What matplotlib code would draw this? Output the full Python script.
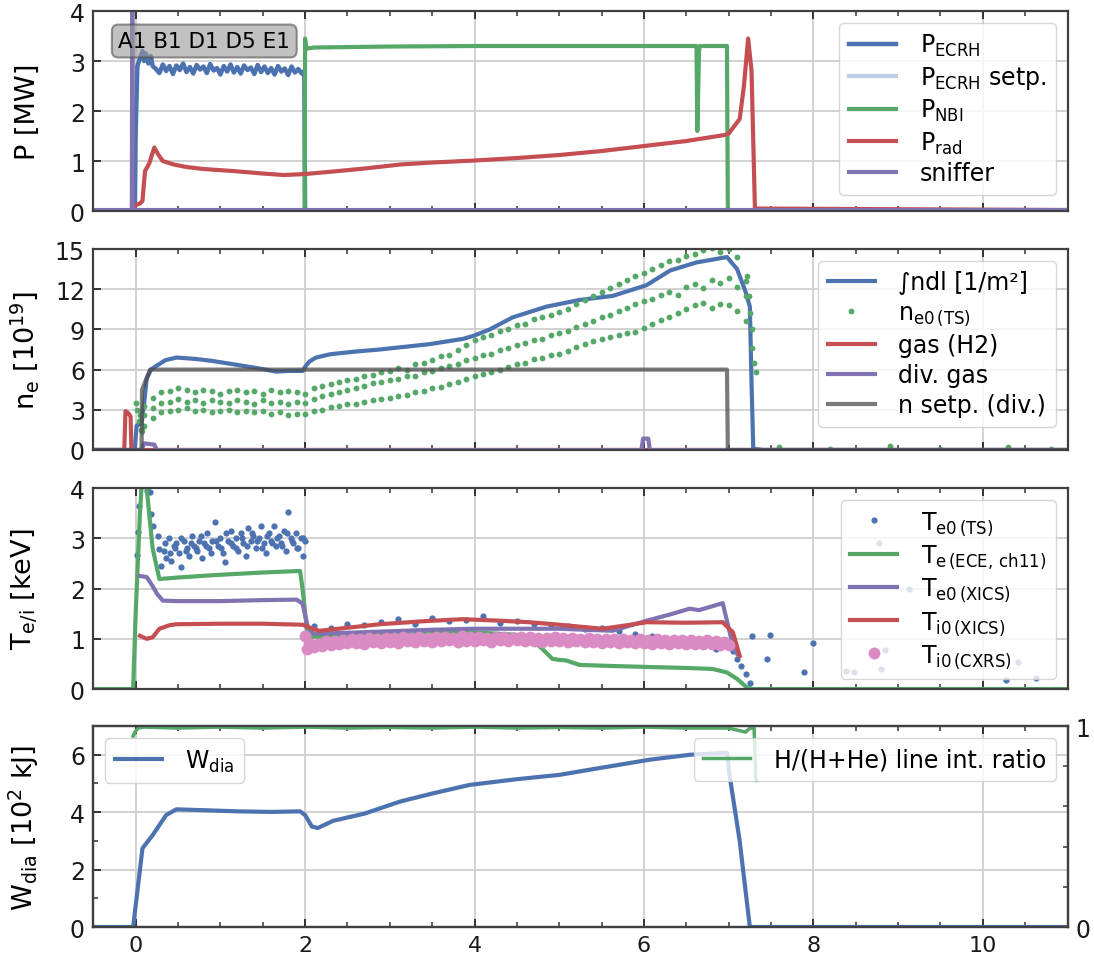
import matplotlib
matplotlib.use('Agg')
import matplotlib.pyplot as plt
from matplotlib.ticker import MultipleLocator

# ---- panel 1: heating / radiated power [MW] ----
ecrh_t = [-0.5, -0.01, 0.0, 0.02, 0.05, 0.08, 0.1, 0.12, 0.15, 0.18, 0.2,
	0.24, 0.28, 0.32, 0.36, 0.40, 0.44, 0.48, 0.52, 0.56, 0.60, 0.64, 0.68, 0.72, 0.76, 0.80,
	0.84, 0.88, 0.92, 0.96, 1.00, 1.04, 1.08, 1.12, 1.16, 1.20, 1.24, 1.28, 1.32, 1.36, 1.40,
	1.44, 1.48, 1.52, 1.56, 1.60, 1.64, 1.68, 1.72, 1.76, 1.80, 1.84, 1.88, 1.92, 1.96,
	1.99, 2.0, 11.0]
ecrh_p = [0, 0, 1.6, 2.9, 3.05, 3.2, 3.0, 3.15, 2.95, 3.1, 2.9,
	2.84, 2.76, 2.93, 2.80, 2.90, 2.74, 2.91, 2.82, 2.95, 2.78, 2.88, 2.75, 2.92, 2.83, 2.89,
	2.76, 2.94, 2.81, 2.86, 2.73, 2.90, 2.79, 2.93, 2.77, 2.88, 2.75, 2.91, 2.82, 2.87, 2.74,
	2.92, 2.78, 2.89, 2.76, 2.86, 2.73, 2.90, 2.79, 2.85, 2.72, 2.89, 2.77, 2.84, 2.75,
	2.8, 0.0, 0.0]
ecrh_set_t = [-0.5, 11.0]
ecrh_set_p = [0.0, 0.0]
nbi_t = [-0.5, 1.995, 2.0, 2.01, 2.03, 2.1, 3.0, 4.0, 5.0, 6.0, 6.62, 6.63, 6.65, 6.66, 6.98, 6.99, 11.0]
nbi_p = [0, 0, 3.45, 3.3, 3.25, 3.27, 3.29, 3.3, 3.3, 3.3, 3.3, 1.6, 3.2, 3.3, 3.3, 0.0, 0.0]
rad_t = [-0.5, -0.03, 0.0, 0.05, 0.08, 0.11, 0.16, 0.22, 0.27, 0.32, 0.45, 0.6, 0.8, 1.15, 1.5,
	1.75, 2.0, 2.33, 2.7, 3.12, 3.5, 4.0, 4.5, 5.0, 5.5, 6.0, 6.5, 6.95, 7.0, 7.13, 7.18, 7.23,
	7.27, 7.31, 11.0]
rad_p = [0, 0, 0.12, 0.15, 0.2, 0.8, 0.95, 1.27, 1.12, 1.0, 0.93, 0.88, 0.84, 0.8, 0.75,
	0.72, 0.74, 0.79, 0.85, 0.93, 0.97, 1.01, 1.06, 1.12, 1.2, 1.3, 1.4, 1.52, 1.55, 1.84, 2.5, 3.45,
	2.8, 0.05, 0.02]
sniff_t = [-0.5, -0.045, -0.04, -0.035, 11.0]
sniff_p = [0.02, 0.02, 5.0, 0.02, 0.02]

# ---- panel 2: density ----
ndl_t = [-0.5, -0.01, 0.01, 0.03, 0.07, 0.1, 0.13, 0.18, 0.25, 0.35, 0.48, 0.7, 0.9, 1.15, 1.4,
	1.66, 1.8, 1.97, 2.0, 2.05, 2.13, 2.3, 2.6, 2.88, 3.47, 3.87, 4.0, 4.18, 4.45, 4.85, 5.24,
	5.63, 6.03, 6.31, 6.62, 6.98, 7.1, 7.2, 7.25, 7.27, 7.29, 7.4, 11.0]
ndl_v = [0, 0, 1.8, 1.9, 2.0, 3.5, 5.3, 6.0, 6.3, 6.7, 6.9, 6.8, 6.65, 6.4, 6.15,
	5.85, 5.9, 5.9, 6.2, 6.6, 6.9, 7.15, 7.35, 7.5, 7.9, 8.3, 8.55, 9.0, 9.9, 10.7, 11.2,
	11.5, 12.3, 13.4, 14.0, 14.4, 13.5, 11.8, 10.7, 5.0, 0.1, 0.0, 0.0]
ts_t = [0.1, 0.2, 0.3, 0.4, 0.5, 0.6, 0.7, 0.8, 0.9, 1.0, 1.1, 1.2, 1.3, 1.4, 1.5, 1.6, 1.7, 1.8,
	1.9, 2.0, 2.1, 2.2, 2.3, 2.4, 2.5, 2.6, 2.7, 2.8, 2.9, 3.0, 3.1, 3.2, 3.3, 3.4, 3.5, 3.6, 3.7,
	3.8, 3.9, 4.0, 4.1, 4.2, 4.3, 4.4, 4.5, 4.6, 4.7, 4.8, 4.9, 5.0, 5.1, 5.2, 5.3, 5.4, 5.5, 5.6,
	5.7, 5.8, 5.9, 6.0, 6.1, 6.2, 6.3, 6.4, 6.5, 6.6, 6.7, 6.8, 6.9, 7.0, 7.1, 7.2]
ne_ts_upper = [3.3, 3.9, 4.3, 4.4, 4.6, 4.5, 4.3, 4.5, 4.4, 4.2, 4.4, 4.5, 4.3, 4.4, 4.2, 4.5, 4.3,
	4.4, 4.3, 4.2, 4.6, 4.8, 4.9, 5.1, 5.2, 5.3, 5.5, 5.6, 5.8, 5.9, 6.1, 6.0, 6.4, 6.5, 6.7, 7.0,
	7.1, 7.5, 7.8, 8.2, 8.4, 8.6, 8.9, 9.0, 9.3, 9.4, 9.8, 9.9, 10.1, 10.3, 10.5, 10.9, 11.2, 11.5,
	11.8, 12.1, 12.4, 12.7, 13.0, 13.2, 13.5, 13.8, 14.1, 14.2, 14.5, 14.6, 14.9, 15.1, 14.8, 15.0,
	14.4, 12.6]
ne_ts_mid = [2.6, 3.1, 3.5, 3.6, 3.8, 3.6, 3.7, 3.5, 3.7, 3.6, 3.5, 3.7, 3.6, 3.4, 3.7, 3.5, 3.6,
	3.4, 3.6, 3.5, 3.8, 4.0, 4.2, 4.3, 4.5, 4.6, 4.8, 5.0, 5.1, 5.2, 5.3, 5.5, 5.5, 5.8, 5.9, 6.1,
	6.3, 6.4, 6.7, 6.9, 7.1, 7.2, 7.5, 7.6, 7.8, 8.0, 8.2, 8.3, 8.6, 8.7, 8.9, 9.2, 9.4, 9.6, 9.9,
	10.1, 10.4, 10.6, 10.9, 11.1, 11.3, 11.6, 11.8, 11.6, 12.2, 12.4, 12.1, 12.7, 12.5, 12.8, 12.2,
	11.5]
ne_ts_lower = [1.8, 2.4, 2.8, 2.9, 3.0, 3.1, 2.9, 3.0, 2.8, 2.9, 3.0, 2.8, 2.9, 2.8, 2.9, 2.7, 2.8,
	2.6, 2.7, 2.7, 2.9, 3.0, 3.2, 3.3, 3.4, 3.4, 3.6, 3.7, 3.8, 3.9, 4.0, 4.1, 4.3, 4.4, 4.6, 4.7,
	4.9, 5.1, 5.3, 5.5, 5.7, 5.8, 6.0, 6.2, 6.4, 6.5, 6.8, 6.9, 7.1, 7.2, 7.4, 7.7, 7.9, 8.1, 8.3,
	8.4, 8.6, 8.7, 8.8, 9.1, 9.4, 9.7, 9.9, 10.2, 10.5, 10.8, 11.0, 10.6, 10.9, 10.8, 10.4, 9.6]
ne_ts_extra_t = [-0.05, 0.0, 0.02, 0.04, 0.05, 0.06, 0.08, 7.22, 7.24, 7.25, 7.27, 7.28, 7.3, 7.32,
	7.6, 8.2, 8.9, 9.5, 10.3, 10.8]
ne_ts_extra_v = [0.1, 3.5, 3.0, 2.2, 2.6, 1.5, 1.4, 13.0, 11.5, 10.2, 9.0, 7.6, 6.5, 5.8,
	0.2, 0.1, 0.3, 0.1, 0.2, 0.1]
gas_t = [-0.5, -0.135, -0.12, -0.1, -0.08, -0.06, -0.05, 11.0]
gas_v = [0, 0, 2.9, 2.8, 2.7, 2.5, 0, 0]
divgas_t = [-0.5, 0.07, 0.1, 0.22, 0.25, 5.97, 5.99, 6.05, 6.07, 11.0]
divgas_v = [0, 0, 0.5, 0.4, 0, 0, 0.85, 0.85, 0, 0]
nset_t = [-0.5, 0.07, 0.075, 0.17, 6.98, 6.99, 11.0]
nset_v = [0, 0, 4.5, 6.0, 6.0, 0, 0]

# ---- panel 3: temperatures [keV] ----
te_ts_t = [0.02, 0.03, 0.04, 0.13, 0.17, 0.18, 0.2, 0.26, 0.28, 0.3,
	0.33, 0.36, 0.39, 0.42, 0.45, 0.48, 0.51, 0.54, 0.57, 0.6, 0.63, 0.66, 0.69, 0.72, 0.75, 0.78,
	0.81, 0.84, 0.87, 0.9, 0.94, 0.97, 1.0, 1.03, 1.06, 1.09, 1.12, 1.15, 1.18, 1.21, 1.24, 1.27,
	1.3, 1.33, 1.36, 1.39, 1.42, 1.45, 1.48, 1.51, 1.54, 1.57, 1.6, 1.63, 1.66, 1.69, 1.72, 1.75,
	1.78, 1.8, 1.83, 1.86, 1.89, 1.92, 1.95, 1.98, 2.0,
	0.35, 0.41, 0.47, 0.53, 0.59, 0.65, 0.71, 0.77, 0.83, 0.89, 0.95, 1.01, 1.07, 1.13, 1.19,
	1.25, 1.31, 1.37, 1.43, 1.49, 1.55, 1.61, 1.67, 1.73, 1.79, 1.85, 1.91, 1.97,
	2.1, 2.3, 2.5, 2.7, 2.9, 3.1, 3.3, 3.5, 3.7, 3.9, 4.1, 4.3, 4.5, 4.7, 4.9, 5.1, 5.3, 5.5, 5.7,
	5.9, 6.1, 6.3, 6.5, 6.7, 6.85, 7.0, 7.05, 7.1, 7.15, 7.2, 7.25, 7.28, 7.45,
	7.49, 7.89, 7.99, 8.39, 8.48, 8.78, 8.8, 8.85, 9.13, 10.27, 10.42, 10.63]
te_ts_v = [2.66, 3.12, 3.65, 3.95, 3.92, 3.49, 3.25, 3.05, 2.79, 2.45,
	2.75, 2.6, 3.0, 2.55, 2.85, 2.9, 2.7, 2.42, 2.95, 2.8, 2.65, 3.05, 2.85, 2.75, 2.95, 2.6,
	2.9, 3.1, 2.8, 2.95, 3.32, 2.85, 3.0, 2.7, 2.52, 2.95, 3.15, 2.85, 3.0, 2.75, 3.1, 2.9,
	2.65, 3.2, 2.95, 3.05, 2.8, 3.0, 3.25, 2.9, 2.7, 3.1, 2.95, 3.25, 2.85, 3.05, 2.9, 3.15,
	2.75, 3.53, 3.0, 2.9, 3.1, 2.8, 3.0, 2.65, 2.95,
	2.9, 2.7, 2.8, 3.0, 2.75, 2.9, 2.8, 3.05, 2.85, 2.7, 2.95, 2.8, 3.1, 2.9, 2.8, 3.0, 2.85,
	3.1, 2.95, 2.8, 3.05, 2.9, 3.0, 2.85, 3.1, 2.95, 2.8, 3.0,
	1.25, 1.22, 1.3, 1.28, 1.33, 1.4, 1.3, 1.42, 1.35, 1.38, 1.45, 1.32, 1.35, 1.3, 1.28, 1.25,
	1.2, 1.22, 1.15, 1.1, 1.05, 0.86, 0.95, 0.92, 0.8, 0.9, 0.75, 0.6, 0.45, 0.3, 0.12, 1.06, 0.6,
	1.07, 0.34, 0.92, 0.36, 0.34, 2.9, 0.4, 0.78, 2.0, 0.18, 0.53, 0.22]
ece_t = [-0.5, -0.03, 0.0, 0.05, 0.07, 0.13, 0.2, 0.28, 0.5, 0.95, 1.5, 1.94, 1.97, 2.02, 2.09,
	2.3, 2.88, 3.5, 3.98, 4.5, 4.69, 4.8, 4.92, 5.0, 5.08, 5.24, 5.6, 6.03, 6.5, 6.81, 6.98, 7.1,
	7.21, 7.27, 11.0]
ece_v = [0, 0, 1.5, 3.5, 4.04, 4.0, 2.8, 2.19, 2.22, 2.27, 2.32, 2.35, 2.0, 1.2, 1.04,
	1.05, 1.1, 1.12, 1.13, 1.08, 0.96, 0.8, 0.6, 0.58, 0.57, 0.48, 0.46, 0.44, 0.42, 0.4, 0.33, 0.2,
	0.04, 0.0, 0.0]
te_xics_t = [0.05, 0.13, 0.2, 0.25, 0.32, 0.5, 1.0, 1.5, 1.9, 1.97, 2.03, 2.1, 2.5, 3.0, 3.5,
	4.0, 4.5, 5.0, 5.3, 5.63, 6.03, 6.3, 6.54, 6.65, 6.93, 7.05, 7.1]
te_xics_v = [2.25, 2.23, 2.05, 1.9, 1.76, 1.75, 1.75, 1.77, 1.78, 1.7, 1.25, 1.1, 1.12, 1.15, 1.18,
	1.2, 1.2, 1.2, 1.18, 1.16, 1.36, 1.48, 1.6, 1.57, 1.71, 0.86, 0.7]
ti_xics_t = [0.05, 0.13, 0.2, 0.28, 0.4, 0.48, 1.0, 1.5, 1.97, 2.09, 2.17, 2.5, 2.88, 3.4, 3.86,
	4.3, 4.65, 5.0, 5.51, 5.8, 6.03, 6.5, 6.93, 7.05, 7.13]
ti_xics_v = [1.06, 1.0, 1.03, 1.2, 1.27, 1.29, 1.3, 1.3, 1.28, 1.2, 1.16, 1.22, 1.29, 1.35, 1.39,
	1.36, 1.33, 1.28, 1.2, 1.27, 1.33, 1.32, 1.33, 1.13, 0.66]
cxrs_t = [2.0, 2.02, 2.05, 2.1, 2.15, 2.2, 2.25, 2.3, 2.35, 2.4, 2.45, 2.5, 2.55, 2.6, 2.65, 2.7,
	2.75, 2.8, 2.85, 2.9, 2.95, 3.0, 3.05, 3.1, 3.15, 3.2, 3.25, 3.3, 3.35, 3.4, 3.45, 3.5, 3.55,
	3.6, 3.65, 3.7, 3.75, 3.8, 3.85, 3.9, 3.95, 4.0, 4.05, 4.1, 4.15, 4.2, 4.25, 4.3, 4.35, 4.4,
	4.45, 4.5, 4.55, 4.6, 4.65, 4.7, 4.75, 4.8, 4.85, 4.9, 4.95, 5.0, 5.05, 5.1, 5.15, 5.2, 5.25,
	5.3, 5.35, 5.4, 5.45, 5.5, 5.55, 5.6, 5.65, 5.7, 5.75, 5.8, 5.85, 5.9, 5.95, 6.0, 6.05, 6.1,
	6.15, 6.2, 6.25, 6.3, 6.35, 6.4, 6.45, 6.5, 6.55, 6.6, 6.65, 6.7, 6.75, 6.8, 6.85, 6.9, 6.95,
	7.0]
cxrs_v = [1.05, 0.8, 0.92, 0.83, 0.9, 0.86, 0.95, 0.88, 0.96, 0.89, 0.98, 0.91, 1.0, 0.92, 0.99,
	0.9, 1.01, 0.93, 1.0, 0.91, 1.02, 0.94, 1.01, 0.92, 1.03, 0.95, 1.02, 0.93, 1.04, 0.96, 1.01,
	0.93, 1.03, 0.95, 1.04, 0.97, 1.02, 0.94, 1.05, 0.96, 1.03, 0.95, 1.04, 0.98, 1.02, 0.94, 1.04,
	0.97, 1.03, 0.95, 1.02, 0.98, 1.04, 0.95, 1.03, 0.96, 1.01, 0.94, 1.02, 0.96, 1.03, 0.95, 1.01,
	0.93, 1.02, 0.95, 1.0, 0.93, 1.01, 0.94, 0.99, 0.92, 1.0, 0.93, 0.99, 0.91, 1.0, 0.93, 0.98,
	0.91, 0.99, 0.92, 0.98, 0.9, 0.99, 0.92, 0.97, 0.9, 0.98, 0.91, 0.97, 0.89, 0.98, 0.9, 0.96,
	0.89, 0.97, 0.9, 0.95, 0.88, 0.94, 0.87]

# ---- panel 4: stored energy and line ratio ----
wdia_t = [-0.5, -0.03, 0.08, 0.2, 0.36, 0.48, 0.8, 1.2, 1.6, 1.94, 2.0, 2.08, 2.15, 2.33, 2.7,
	3.12, 3.5, 3.94, 4.5, 5.0, 5.5, 6.07, 6.54, 6.98, 7.01, 7.13, 7.25, 11.0]
wdia_v = [0, 0, 2.74, 3.2, 3.9, 4.1, 4.07, 4.03, 4.01, 4.03, 3.9, 3.5, 3.45, 3.7, 3.95,
	4.37, 4.65, 4.95, 5.15, 5.3, 5.55, 5.83, 6.0, 6.07, 5.3, 3.0, 0.0, 0.0]
ratio_t = [-0.03, -0.01, 0.03, 0.1, 0.5, 1.0, 1.5, 2.0, 2.5, 3.0, 3.5, 4.0, 4.5, 5.0, 5.5, 6.0,
	6.5, 7.0, 7.2, 7.25, 7.3, 7.32, 7.33]
ratio_v = [0.95, 0.97, 0.99, 0.995, 0.99, 0.995, 0.99, 0.995, 0.99, 0.993, 0.99, 0.995, 0.99,
	0.993, 0.99, 0.995, 0.99, 0.99, 0.97, 0.99, 0.99, 0.74, 0.73]

BLUE = '#4C72B0'
GREEN = '#55A868'
RED = '#C44E52'
PURPLE = '#8172B2'
PINK = '#DA8BC3'
LIGHTBLUE = '#bccde6'


def style_axes(ax, ylim, yticks, show_x=False):
	ax.set_xlim(-0.5, 11)
	ax.set_ylim(*ylim)
	ax.set_yticks(yticks)
	ax.xaxis.set_major_locator(MultipleLocator(2))
	ax.xaxis.set_minor_locator(MultipleLocator(0.5))
	ax.grid(True, which='major', color='#cfcfcf', lw=1.3)
	ax.set_axisbelow(True)
	for s in ax.spines.values():
		s.set_color('0.25')
		s.set_linewidth(1.6)
	ax.tick_params(which='both', direction='in', top=True, right=False, colors='0.2',
		labelsize=17, labelcolor='0.1')
	ax.tick_params(which='major', length=6, width=1.4)
	ax.tick_params(which='minor', length=3.5, width=1.1)
	ax.tick_params(axis='y', pad=6)
	ax.tick_params(axis='x', pad=6, labelsize=16, labelbottom=show_x)
	ax.yaxis.set_label_coords(-0.054, 0.5)


def main():
	plt.rcParams['font.family'] = ['DejaVu Sans']
	plt.rcParams['mathtext.default'] = 'regular'
	leg_kw = dict(fontsize=17, framealpha=0.8, edgecolor='0.8', fancybox=True,
		labelspacing=0.25, handletextpad=1.0)

	fig = plt.figure(figsize=(10.94, 9.62), dpi=100)
	left, width = 0.0853, 0.8905
	ax1 = fig.add_axes([left, 0.7796, width, 0.2079])
	ax2 = fig.add_axes([left, 0.5312, width, 0.2089])
	ax3 = fig.add_axes([left, 0.2827, width, 0.2089])
	ax4 = fig.add_axes([left, 0.0353, width, 0.2089])

	# power
	ax1.plot(ecrh_t, ecrh_p, color=BLUE, lw=3.2, label=r'P$_{ECRH}$')
	ax1.plot(ecrh_set_t, ecrh_set_p, color=LIGHTBLUE, lw=3, label=r'P$_{ECRH}$ setp.')
	ax1.plot(nbi_t, nbi_p, color=GREEN, lw=3, label=r'P$_{NBI}$')
	ax1.plot(rad_t, rad_p, color=RED, lw=3, label=r'P$_{rad}$')
	ax1.plot(sniff_t, sniff_p, color=PURPLE, lw=3, label='sniffer')
	style_axes(ax1, (0, 4), [0, 1, 2, 3, 4])
	ax1.set_ylabel('P [MW]', fontsize=19.5)
	ax1.legend(loc='upper right', **leg_kw)
	ax1.text(0.81, 3.4, 'A1 B1 D1 D5 E1', fontsize=15.5, ha='center', va='center',
		bbox=dict(boxstyle='round,pad=0.3', fc='0.6', ec='0.3', alpha=0.6, lw=1.5))

	# density
	ax2.plot(ndl_t, ndl_v, color=BLUE, lw=3, label='∫ndl [1/m²]')
	ax2.plot(ts_t, ne_ts_upper, 'o', color=GREEN, ms=4.2, mew=0, label=r'n$_{e0\,(TS)}$')
	ax2.plot(ts_t, ne_ts_mid, 'o', color=GREEN, ms=4.2, mew=0)
	ax2.plot(ts_t, ne_ts_lower, 'o', color=GREEN, ms=4.2, mew=0)
	ax2.plot(ne_ts_extra_t, ne_ts_extra_v, 'o', color=GREEN, ms=4.2, mew=0)
	ax2.plot(gas_t, gas_v, color=RED, lw=3, label='gas (H2)')
	ax2.plot(divgas_t, divgas_v, color=PURPLE, lw=3, label='div. gas')
	ax2.plot(nset_t, nset_v, color='0.3', alpha=0.75, lw=3, label='n setp. (div.)')
	style_axes(ax2, (0, 15), [0, 3, 6, 9, 12, 15])
	ax2.set_ylabel(r'n$_e$ [10$^{19}$]', fontsize=19.5)
	ax2.legend(loc='upper right', **leg_kw)

	# temperatures
	ax3.plot(te_ts_t, te_ts_v, 'o', color=BLUE, ms=4.5, mew=0, label=r'T$_{e0\,(TS)}$')
	ax3.plot(ece_t, ece_v, color=GREEN, lw=3, label=r'T$_{e\,(ECE,\,ch11)}$')
	ax3.plot(te_xics_t, te_xics_v, color=PURPLE, lw=3, label=r'T$_{e0\,(XICS)}$')
	ax3.plot(ti_xics_t, ti_xics_v, color=RED, lw=3, label=r'T$_{i0\,(XICS)}$')
	ax3.plot(cxrs_t, cxrs_v, 'o', color=PINK, ms=8.5, mew=0, label=r'T$_{i0\,(CXRS)}$')
	style_axes(ax3, (0, 4), [0, 1, 2, 3, 4])
	ax3.set_ylabel(r'T$_{e/i}$ [keV]', fontsize=19.5)
	ax3.legend(loc='upper right', **leg_kw)

	# stored energy + ratio
	ax4.plot(wdia_t, wdia_v, color=BLUE, lw=3, label=r'W$_{dia}$')
	style_axes(ax4, (0, 7), [0, 2, 4, 6], show_x=True)
	ax4.yaxis.set_minor_locator(MultipleLocator(1))
	ax4.set_ylabel(r'W$_{dia}$ [10$^2$ kJ]', fontsize=19.5)
	ax4.legend(loc='upper left', **leg_kw)

	tw = ax4.twinx()
	tw.plot(ratio_t, ratio_v, color=GREEN, lw=2.5, label='H/(H+He) line int. ratio')
	tw.set_ylim(0, 1)
	tw.set_yticks([0, 1])
	tw.yaxis.set_minor_locator(MultipleLocator(0.2))
	tw.tick_params(which='both', direction='in', colors='0.2', labelsize=17, labelcolor='0.1', pad=6)
	tw.tick_params(which='major', length=6, width=1.4)
	tw.tick_params(which='minor', length=3.5, width=1.1)
	for s in tw.spines.values():
		s.set_color('0.25')
		s.set_linewidth(1.6)
	tw.legend(loc='upper right', **leg_kw)

	fig.savefig('out.png', dpi=100)


if __name__ == "__main__":
	main()
